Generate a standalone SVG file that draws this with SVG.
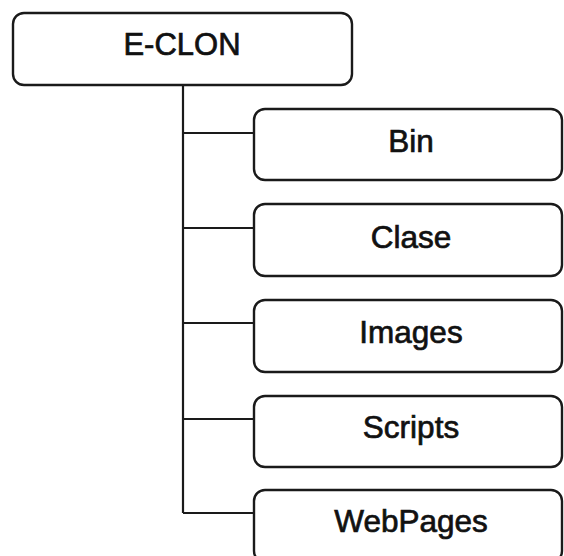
<svg xmlns="http://www.w3.org/2000/svg" width="564" height="556" viewBox="0 0 564 556">
<style>
.box{fill:#fff;stroke:#1a1a1a;stroke-width:2.4}
.lbl{font-family:"Liberation Sans",Arial,sans-serif;font-size:31.5px;fill:#111;stroke:#111;stroke-width:0.7;text-anchor:middle}
.con{stroke:#1a1a1a;stroke-width:2.2;fill:none}
</style>
<rect width="564" height="556" fill="#fff"/>
<g id="connectors">
<path class="con" d="M183 85 V513"/>
<path class="con" d="M183 133 H254"/>
<path class="con" d="M183 228 H254"/>
<path class="con" d="M183 323 H254"/>
<path class="con" d="M183 419 H254"/>
<path class="con" d="M183 513 H254"/>
</g>
<g id="e-clon">
<rect class="box" x="13" y="13" width="339" height="72" rx="11"/>
<text class="lbl" x="182" y="55" style="font-size:31px">E-CLON</text>
</g>
<g id="bin">
<rect class="box" x="254" y="109" width="308" height="71" rx="11"/>
<text class="lbl" x="411" y="152">Bin</text>
</g>
<g id="clase">
<rect class="box" x="254" y="204" width="308" height="72" rx="11"/>
<text class="lbl" x="411" y="248">Clase</text>
</g>
<g id="images">
<rect class="box" x="254" y="300" width="308" height="72" rx="11"/>
<text class="lbl" x="411" y="343">Images</text>
</g>
<g id="scripts">
<rect class="box" x="254" y="396" width="308" height="71" rx="11"/>
<text class="lbl" x="411" y="438">Scripts</text>
</g>
<g id="webpages">
<rect class="box" x="254" y="490" width="308" height="72" rx="11"/>
<text class="lbl" x="411" y="532">WebPages</text>
</g>
</svg>
